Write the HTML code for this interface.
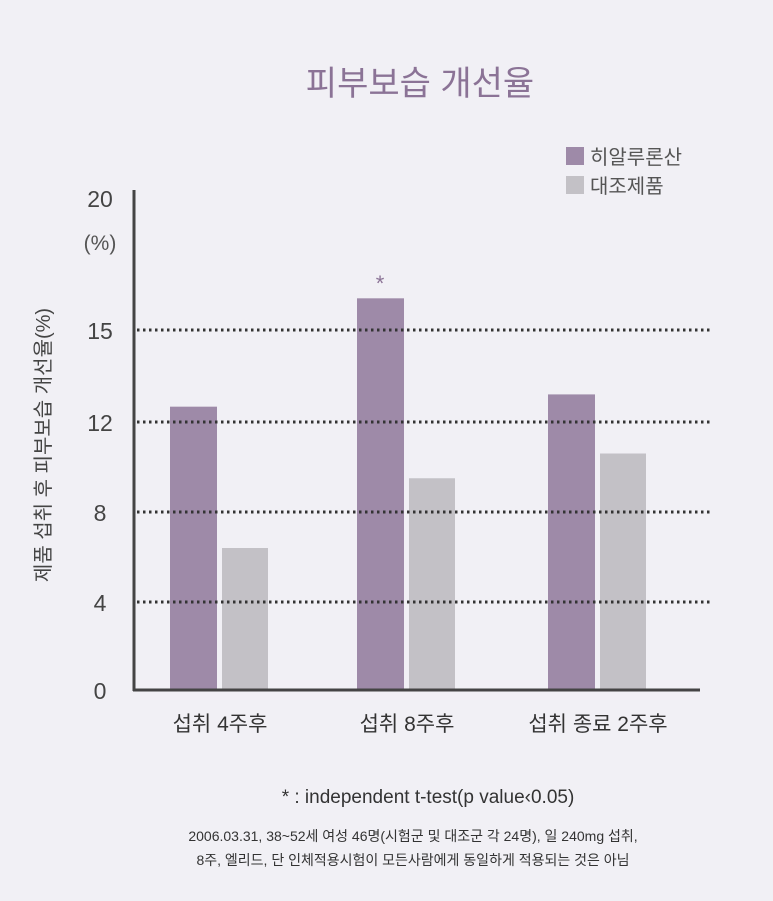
<!DOCTYPE html>
<html><head><meta charset="utf-8"><style>
body{margin:0;background:#f1f0f5;}
svg{display:block;font-family:"Liberation Sans","Noto Sans CJK KR",sans-serif;}
</style></head><body>
<svg width="773" height="901" viewBox="0 0 773 901">
<rect width="773" height="901" fill="#f1f0f5"/>
<text x="420" y="95" font-size="34" fill="#8b7396" text-anchor="middle">피부보습 개선율</text>
<rect x="566" y="147" width="18" height="18" fill="#9e8aa8"/>
<text x="590" y="164" font-size="20" fill="#555">히알루론산</text>
<rect x="566" y="176" width="18" height="18" fill="#c3c1c6"/>
<text x="590" y="193" font-size="20" fill="#555">대조제품</text>
<text x="50" y="445" font-size="20" fill="#444" text-anchor="middle" transform="rotate(-90 50 445)">제품 섭취 후 피부보습 개선율(%)</text>
<text x="100" y="250" font-size="21" fill="#555" text-anchor="middle">(%)</text>
<g id="bars"></g><g id="grid"></g><g id="ticks"></g><g id="xlabels"></g>
<line x1="134" y1="190" x2="134" y2="691" stroke="#444" stroke-width="3"/>
<line x1="133" y1="690" x2="700" y2="690" stroke="#444" stroke-width="3"/>
<text x="380" y="291" font-size="22" fill="#8b7396" text-anchor="middle">*</text>
<text x="428" y="803" font-size="19" fill="#333" text-anchor="middle">* : independent t-test(p value‹0.05)</text>
<text x="413" y="841" font-size="14" fill="#333" text-anchor="middle">2006.03.31, 38~52세 여성 46명(시험군 및 대조군 각 24명), 일 240mg 섭취,</text>
<text x="413" y="865" font-size="14" fill="#333" text-anchor="middle">8주, 엘리드, 단 인체적용시험이 모든사람에게 동일하게 적용되는 것은 아님</text>
</svg>
<script>
const categories=["섭취 4주후","섭취 8주후","섭취 종료 2주후"];
const hyaluronic=[12.5,16.2,12.9];
const control=[6.4,9.5,10.6];
const tickValues=[0,4,8,12,15,20];
const gridValues=[4,8,12,15];
const NS="http://www.w3.org/2000/svg";
function y(v){
  const px=[690,602,512,422,330,198];
  for(let i=0;i<tickValues.length-1;i++){
    if(v<=tickValues[i+1]){const t=(v-tickValues[i])/(tickValues[i+1]-tickValues[i]);return px[i]+t*(px[i+1]-px[i]);}
  }
  return px[px.length-1];
}
const groupX=[170,357,548];
function x(i){return groupX[i];}
function mk(tag,attrs,parent){const e=document.createElementNS(NS,tag);for(const k in attrs)e.setAttribute(k,attrs[k]);document.getElementById(parent).appendChild(e);return e;}
categories.forEach((c,i)=>{
  let r=mk("rect",{x:x(i),y:y(hyaluronic[i]),width:47,height:y(0)-y(hyaluronic[i]),fill:"#9e8aa8"},"bars");
  
  
  let g=mk("rect",{x:x(i)+52,y:y(control[i]),width:46,height:y(0)-y(control[i]),fill:"#c3c1c6"},"bars");
  
  
  let t=mk("text",{x:x(i)+50,y:731,"font-size":21,fill:"#333","text-anchor":"middle"},"xlabels");
  t.textContent=c;
  
  
});
gridValues.forEach(v=>{
  let l=mk("line",{x1:137,x2:712,y1:y(v),y2:y(v),stroke:"#333","stroke-width":3,"stroke-dasharray":"2.5 3.5"},"grid");
  
  
});
tickValues.forEach(v=>{
  let t=mk("text",{x:100,y:y(v)+9,"font-size":23,fill:"#444","text-anchor":"middle"},"ticks");
  t.textContent=v;
  
  
});
</script>
</body></html>
